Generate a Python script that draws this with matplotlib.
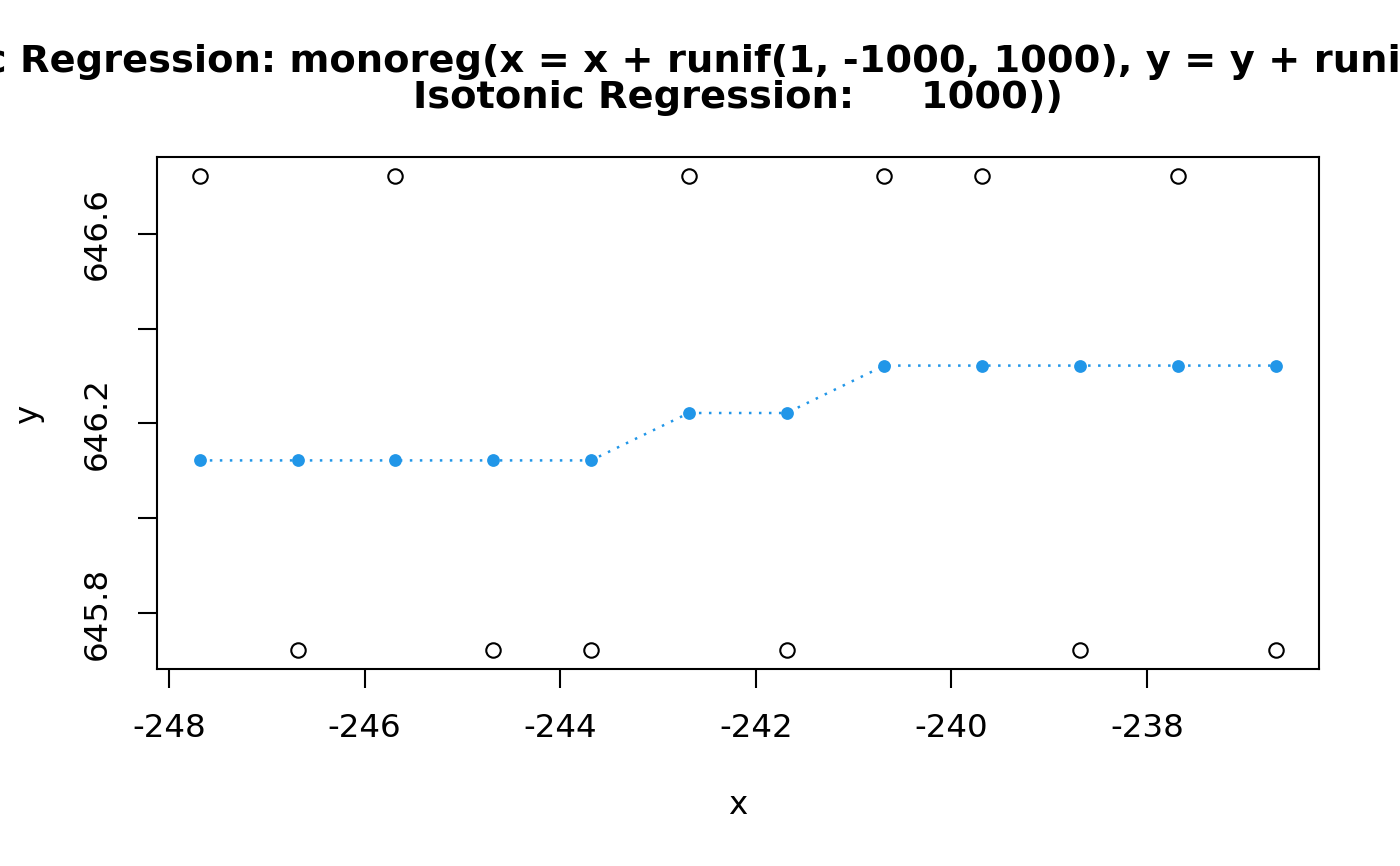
import matplotlib.pyplot as plt

# data
x_vals = [-247.684, -246.684, -245.684, -244.684, -243.684, -242.684,
          -241.684, -240.684, -239.684, -238.684, -237.684, -236.684]
y_obs = [646.722, 645.722, 646.722, 645.722, 645.722, 646.722,
         645.722, 646.722, 646.722, 645.722, 646.722, 645.722]
y_fit = [646.122, 646.122, 646.122, 646.122, 646.122, 646.222,
         646.222, 646.322, 646.322, 646.322, 646.322, 646.322]

x_ticks = [-248, -246, -244, -242, -240, -238]
y_ticks = [645.8, 646.0, 646.2, 646.4, 646.6]
y_tick_labels = ['645.8', '', '646.2', '', '646.6']

title = ('Isotonic Regression: monoreg(x = x + runif(1, -1000, 1000), y = y + runif(1, -1000, \n'
         'Isotonic Regression:     1000))')

fig = plt.figure(figsize=(7, 4.33), dpi=200)
ax = fig.add_axes([157/1400, 197/866, 1162/1400, 512/866])

ax.plot(x_vals, y_obs, 'o', mfc='none', mec='black', ms=5.2, mew=0.75)
ax.plot(x_vals, y_fit, color='#2196E8', lw=0.9, ls=(0, (1, 3)))
ax.plot(x_vals, y_fit, 'o', color='#2196E8', ms=4.6, mew=0)

ax.set_xlim(-248.122, -236.24)
ax.set_ylim(645.682, 646.762)

ax.set_xticks(x_ticks)
ax.set_xticklabels([str(t) for t in x_ticks])
ax.set_yticks(y_ticks)
ax.set_yticklabels(y_tick_labels, rotation=90, va='center')
ax.tick_params(axis='both', labelsize=11.7, length=6.8, width=0.75, pad=9)

for sp in ax.spines.values():
    sp.set_linewidth(0.75)

ax.set_xlabel('x', fontsize=11.7)
ax.xaxis.set_label_coords(0.5, -0.266)
ax.xaxis.label.set_va('center')
ax.set_ylabel('y', fontsize=11.7)
ax.yaxis.set_label_coords(-0.111, 0.5)
ax.yaxis.label.set_va('center')

ax.text(0.5, 1.150, title, transform=ax.transAxes, ha='center', va='center',
        fontsize=13.8, fontweight='bold', linespacing=0.98, multialignment='center')

fig.savefig('out.png', dpi=200)
